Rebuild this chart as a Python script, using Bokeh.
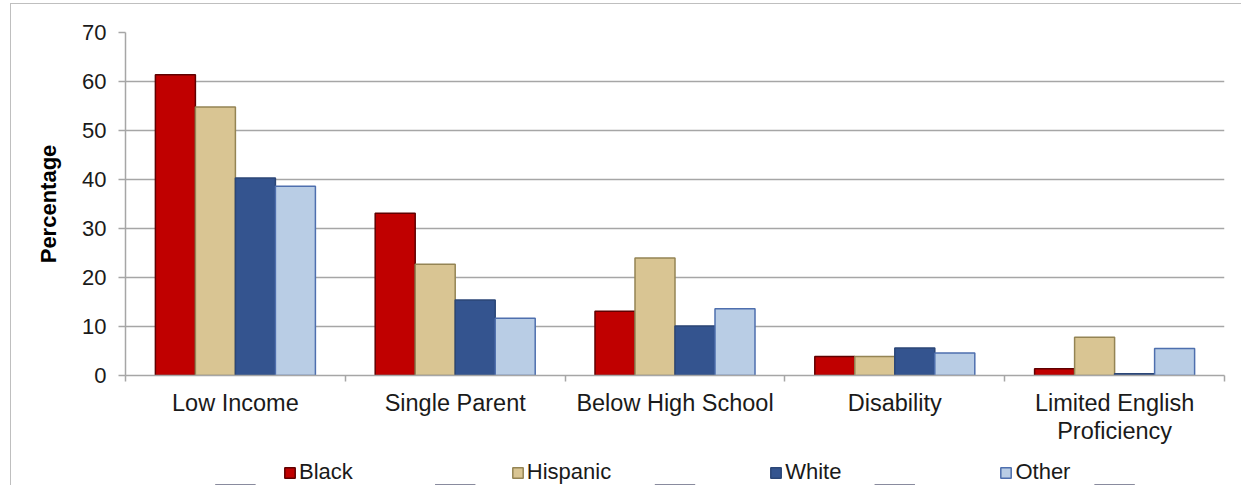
from bokeh.plotting import figure
from bokeh.layouts import column
from bokeh.models import (ColumnDataSource, Range1d, FixedTicker, Legend, LegendItem)
from bokeh.transform import dodge
from bokeh.embed import file_html
from bokeh.resources import INLINE

categories = ["Low Income", "Single Parent", "Below High School", "Disability",
              "Limited English Proficiency"]
tick_labels = ["Low Income", "Single Parent", "Below High School", "Disability",
               "Limited English\nProficiency"]
groups = ["Black", "Hispanic", "White", "Other"]
black = [61.4, 33.1, 13.1, 3.9, 1.4]
hispanic = [54.8, 22.7, 24.0, 3.9, 7.8]
white = [40.3, 15.4, 10.1, 5.6, 0.35]
other = [38.6, 11.7, 13.6, 4.6, 5.5]
y_ticks = [0, 10, 20, 30, 40, 50, 60, 70]

fills = ["#C00000", "#D9C593", "#34548F", "#B9CDE5"]
lines = ["#600000", "#948454", "#2B4677", "#4E6FAE"]

FONT = "Liberation Sans"

# category slots on a numeric axis: centre of slot i is i + 0.5
centres = [i + 0.5 for i in range(len(categories))]
bounds = [float(i) for i in range(len(categories) + 1)]

source = ColumnDataSource(dict(x=centres, cat=categories, Black=black,
                               Hispanic=hispanic, White=white, Other=other))

p = figure(x_range=Range1d(0, len(categories)), y_range=Range1d(0, 70),
           width=1230, height=446, output_backend="svg", toolbar_location=None,
           min_border_left=114, min_border_right=17,
           min_border_top=28, min_border_bottom=75)

bw = 0.182
offsets = [-1.5 * bw, -0.5 * bw, 0.5 * bw, 1.5 * bw]
for g, off, fc, lc in zip(groups, offsets, fills, lines):
    p.vbar(x=dodge("x", off), top=g, width=bw, source=source,
           fill_color=fc, line_color=lc, line_width=1.5)

# x axis: labels at category centres, tick marks at category boundaries
xaxis = p.xaxis[0]
xaxis.ticker = FixedTicker(ticks=centres, minor_ticks=bounds)
xaxis.major_label_overrides = {c: t for c, t in zip(centres, tick_labels)}
xaxis.axis_line_color = "#A6A6A6"
xaxis.axis_line_width = 1.5
xaxis.major_tick_line_color = None
xaxis.major_tick_in = 0
xaxis.major_tick_out = 6
xaxis.minor_tick_line_color = "#A6A6A6"
xaxis.minor_tick_line_width = 1.5
xaxis.minor_tick_in = 0
xaxis.minor_tick_out = 6
xaxis.major_label_text_font = FONT
xaxis.major_label_text_font_size = "23.5px"
xaxis.major_label_text_color = "#1a1a1a"
xaxis.major_label_text_line_height = 1.1
xaxis.major_label_standoff = 8

ya = p.yaxis[0]
ya.ticker = FixedTicker(ticks=y_ticks)
ya.axis_line_color = "#A6A6A6"
ya.axis_line_width = 1.5
ya.major_tick_line_color = "#A6A6A6"
ya.major_tick_line_width = 1.5
ya.major_tick_in = 0
ya.major_tick_out = 7
ya.minor_tick_line_color = None
ya.major_label_text_font = FONT
ya.major_label_text_font_size = "22px"
ya.major_label_text_color = "#1a1a1a"
ya.major_label_standoff = 12
ya.axis_label = "Percentage"
ya.axis_label_text_font = FONT
ya.axis_label_text_font_style = "bold"
ya.axis_label_text_font_size = "22px"
ya.axis_label_text_color = "#000000"
ya.axis_label_standoff = 18

p.ygrid.ticker = FixedTicker(ticks=y_ticks)
p.ygrid.grid_line_color = "#A6A6A6"
p.ygrid.grid_line_width = 1.5
p.xgrid.visible = False
p.outline_line_color = None
p.background_fill_color = "white"
p.border_fill_color = "white"

# legend strip below the chart (its bars lie entirely below its visible y-range)
lf = figure(width=1230, height=35, output_backend="svg", toolbar_location=None,
            x_range=Range1d(0, len(categories)), y_range=Range1d(1000, 1001),
            min_border=0)
lf.axis.visible = False
lf.grid.visible = False
lf.outline_line_color = None
lf.border_fill_color = "white"
lf.background_fill_color = "white"
swatches = []
for g, fc, lc in zip(groups, fills, lines):
    swatches.append(lf.vbar(x="x", top=g, width=bw, source=source, fill_color=fc,
                            line_color=lc, line_width=1.5))
legend = Legend(items=[LegendItem(label=g, renderers=[r]) for g, r in zip(groups, swatches)],
                orientation="horizontal", location=(158, 0), spacing=158,
                glyph_width=13, glyph_height=13, label_standoff=3,
                label_text_font=FONT, label_text_font_size="22px",
                label_text_color="#1a1a1a", border_line_color=None,
                background_fill_alpha=0, padding=0, margin=0)
lf.add_layout(legend, "center")

layout = column(p, lf, spacing=0,
                styles={"margin-left": "10px", "margin-top": "3px",
                        "border-left": "1px solid #BFBFBF",
                        "border-top": "1px solid #BFBFBF"})

open("out.html", "w").write(file_html(layout, INLINE))
